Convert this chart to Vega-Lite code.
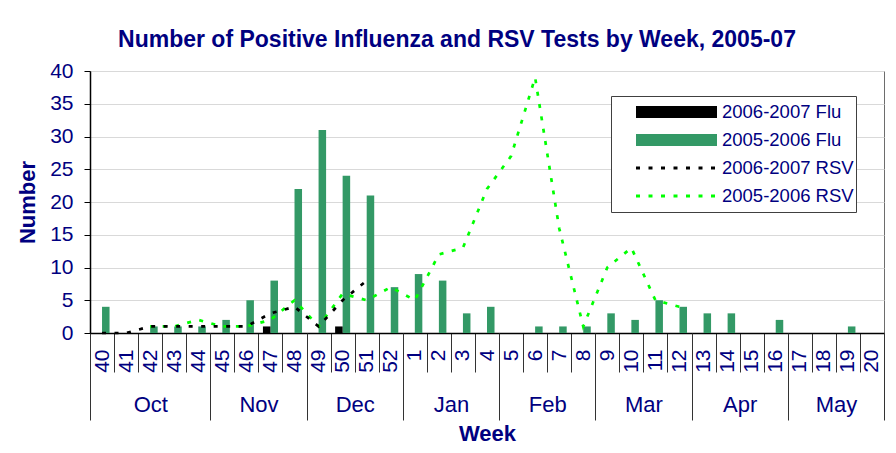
{
  "$schema": "https://vega.github.io/schema/vega-lite/v6.json",
  "width": 794,
  "height": 262,
  "autosize": {"type": "none"},
  "padding": {"left": 90, "top": 71, "right": 12, "bottom": 120},
  "background": "white",
  "title": {"text": "Number of Positive Influenza and RSV Tests by Week, 2005-07", "font": "Liberation Sans", "fontSize": 23, "fontWeight": "bold", "color": "#000080", "anchor": "middle", "frame": "group", "dx": -30, "baseline": "alphabetic", "offset": -10},
  "data": {"values": [
    {"week": "40", "series": "2005-2006 Flu", "value": 4},
    {"week": "41", "series": "2005-2006 Flu", "value": 0},
    {"week": "42", "series": "2005-2006 Flu", "value": 1},
    {"week": "43", "series": "2005-2006 Flu", "value": 1},
    {"week": "44", "series": "2005-2006 Flu", "value": 1},
    {"week": "45", "series": "2005-2006 Flu", "value": 2},
    {"week": "46", "series": "2005-2006 Flu", "value": 5},
    {"week": "47", "series": "2005-2006 Flu", "value": 8},
    {"week": "48", "series": "2005-2006 Flu", "value": 22},
    {"week": "49", "series": "2005-2006 Flu", "value": 31},
    {"week": "50", "series": "2005-2006 Flu", "value": 24},
    {"week": "51", "series": "2005-2006 Flu", "value": 21},
    {"week": "52", "series": "2005-2006 Flu", "value": 7},
    {"week": "1", "series": "2005-2006 Flu", "value": 9},
    {"week": "2", "series": "2005-2006 Flu", "value": 8},
    {"week": "3", "series": "2005-2006 Flu", "value": 3},
    {"week": "4", "series": "2005-2006 Flu", "value": 4},
    {"week": "5", "series": "2005-2006 Flu", "value": 0},
    {"week": "6", "series": "2005-2006 Flu", "value": 1},
    {"week": "7", "series": "2005-2006 Flu", "value": 1},
    {"week": "8", "series": "2005-2006 Flu", "value": 1},
    {"week": "9", "series": "2005-2006 Flu", "value": 3},
    {"week": "10", "series": "2005-2006 Flu", "value": 2},
    {"week": "11", "series": "2005-2006 Flu", "value": 5},
    {"week": "12", "series": "2005-2006 Flu", "value": 4},
    {"week": "13", "series": "2005-2006 Flu", "value": 3},
    {"week": "14", "series": "2005-2006 Flu", "value": 3},
    {"week": "15", "series": "2005-2006 Flu", "value": 0},
    {"week": "16", "series": "2005-2006 Flu", "value": 2},
    {"week": "17", "series": "2005-2006 Flu", "value": 0},
    {"week": "18", "series": "2005-2006 Flu", "value": 0},
    {"week": "19", "series": "2005-2006 Flu", "value": 1},
    {"week": "20", "series": "2005-2006 Flu", "value": 0},
    {"week": "40", "series": "2006-2007 Flu", "value": 0},
    {"week": "41", "series": "2006-2007 Flu", "value": 0},
    {"week": "42", "series": "2006-2007 Flu", "value": 0},
    {"week": "43", "series": "2006-2007 Flu", "value": 0},
    {"week": "44", "series": "2006-2007 Flu", "value": 0},
    {"week": "45", "series": "2006-2007 Flu", "value": 0},
    {"week": "46", "series": "2006-2007 Flu", "value": 0},
    {"week": "47", "series": "2006-2007 Flu", "value": 1},
    {"week": "48", "series": "2006-2007 Flu", "value": 0},
    {"week": "49", "series": "2006-2007 Flu", "value": 0},
    {"week": "50", "series": "2006-2007 Flu", "value": 1},
    {"week": "51", "series": "2006-2007 Flu", "value": 0},
    {"week": "42", "series": "2005-2006 RSV", "value": 1},
    {"week": "43", "series": "2005-2006 RSV", "value": 1},
    {"week": "44", "series": "2005-2006 RSV", "value": 2},
    {"week": "45", "series": "2005-2006 RSV", "value": 1},
    {"week": "46", "series": "2005-2006 RSV", "value": 1},
    {"week": "47", "series": "2005-2006 RSV", "value": 2},
    {"week": "48", "series": "2005-2006 RSV", "value": 5},
    {"week": "49", "series": "2005-2006 RSV", "value": 1},
    {"week": "50", "series": "2005-2006 RSV", "value": 6},
    {"week": "51", "series": "2005-2006 RSV", "value": 5},
    {"week": "52", "series": "2005-2006 RSV", "value": 7},
    {"week": "1", "series": "2005-2006 RSV", "value": 5},
    {"week": "2", "series": "2005-2006 RSV", "value": 12},
    {"week": "3", "series": "2005-2006 RSV", "value": 13},
    {"week": "4", "series": "2005-2006 RSV", "value": 22},
    {"week": "5", "series": "2005-2006 RSV", "value": 27},
    {"week": "6", "series": "2005-2006 RSV", "value": 39},
    {"week": "7", "series": "2005-2006 RSV", "value": 16},
    {"week": "8", "series": "2005-2006 RSV", "value": 1},
    {"week": "9", "series": "2005-2006 RSV", "value": 10},
    {"week": "10", "series": "2005-2006 RSV", "value": 13},
    {"week": "11", "series": "2005-2006 RSV", "value": 5},
    {"week": "12", "series": "2005-2006 RSV", "value": 4},
    {"week": "40", "series": "2006-2007 RSV", "value": 0},
    {"week": "41", "series": "2006-2007 RSV", "value": 0},
    {"week": "42", "series": "2006-2007 RSV", "value": 1},
    {"week": "43", "series": "2006-2007 RSV", "value": 1},
    {"week": "44", "series": "2006-2007 RSV", "value": 1},
    {"week": "45", "series": "2006-2007 RSV", "value": 1},
    {"week": "46", "series": "2006-2007 RSV", "value": 1},
    {"week": "47", "series": "2006-2007 RSV", "value": 3},
    {"week": "48", "series": "2006-2007 RSV", "value": 4},
    {"week": "49", "series": "2006-2007 RSV", "value": 1},
    {"week": "50", "series": "2006-2007 RSV", "value": 5},
    {"week": "51", "series": "2006-2007 RSV", "value": 8}
  ]},
  "layer": [
    {
      "transform": [{"filter": "indexof(datum.series, 'Flu') >= 0"}],
      "mark": {"type": "bar"},
      "encoding": {
        "x": {
          "field": "week", "type": "ordinal",
          "scale": {"domain": ["40","41","42","43","44","45","46","47","48","49","50","51","52","1","2","3","4","5","6","7","8","9","10","11","12","13","14","15","16","17","18","19","20"], "paddingInner": 0, "paddingOuter": 0},
          "axis": {"orient": "bottom", "title": "Week", "titleFontSize": 22, "titleFontWeight": "bold", "titleColor": "#000080", "titleBaseline": "alphabetic", "titleY": 107, "labelAngle": 270, "labelFontSize": 21, "labelColor": "#000080", "labelPadding": -23, "tickSize": 39, "tickBand": "extent", "tickColor": "#333333", "domainColor": "#000000", "domainWidth": 1.5, "grid": false, "labelOverlap": false}
        },
        "xOffset": {"field": "series", "type": "nominal", "scale": {"domain": ["2006-2007 Flu", "2005-2006 Flu"], "paddingInner": 0, "paddingOuter": 0.6}},
        "y": {
          "field": "value", "type": "quantitative",
          "scale": {"domain": [0, 40], "nice": false},
          "axis": {"title": "Number", "titleFontSize": 22, "titleFontWeight": "bold", "titleColor": "#000080", "titlePadding": 10, "tickCount": 8, "grid": true, "gridColor": "#d9d9d9", "gridWidth": 1.2, "labelFontSize": 21, "labelColor": "#000080", "labelPadding": 11, "tickSize": 6, "tickColor": "#000000", "domainColor": "#000000", "domainWidth": 1.5}
        },
        "color": {
          "field": "series", "type": "nominal",
          "scale": {"domain": ["2006-2007 Flu", "2005-2006 Flu", "2006-2007 RSV", "2005-2006 RSV"], "range": ["#000000", "#339966", "#000000", "#00ff00"]},
          "legend": {
            "title": null, "orient": "none", "legendX": 521, "legendY": 25,
            "padding": 2, "fillColor": "#ffffff", "strokeColor": "#404040",
            "clipHeight": 28, "rowPadding": 0,
            "symbolSize": 10000, "symbolStrokeWidth": 3,
            "labelOffset": 6, "labelFontSize": 18.5, "labelColor": "#000080", "labelFont": "Liberation Sans", "labelLimit": 400,
            "encode": {"symbols": {"update": {
              "shape": {"signal": "indexof(datum.value, 'RSV') >= 0 ? 'M-0.57,0L1.05,0' : 'M-0.57,-0.12L1.05,-0.12L1.05,0.12L-0.57,0.12Z'"},
              "fill": {"signal": "indexof(datum.value, 'RSV') >= 0 ? 'transparent' : scale('color', datum.value)"},
              "stroke": {"signal": "scale('color', datum.value)"},
              "strokeOpacity": {"signal": "indexof(datum.value, 'RSV') >= 0 ? 1 : 0"},
              "strokeDash": {"signal": "indexof(datum.value, 'RSV') >= 0 ? [4, 8.5] : [1, 0]"},
              "strokeCap": {"value": "butt"},
              "opacity": {"value": 1}
            }}}
          }
        }
      }
    },
    {
      "transform": [{"filter": "indexof(datum.series, 'RSV') >= 0"}],
      "mark": {"type": "line", "strokeWidth": 2.7, "strokeDash": [4, 8.5]},
      "encoding": {
        "x": {
          "field": "week", "type": "ordinal",
          "axis": {"orient": "bottom", "title": null, "values": ["40","44","48","52","4","8","12","16","20"], "tickBand": "extent", "tickSize": 87, "tickColor": "#333333", "tickOpacity": {"condition": {"test": "datum.value === '40'", "value": 0}, "value": 1}, "domain": false, "grid": false, "labelAngle": 0, "labelFontSize": 22, "labelColor": "#000080", "labelBaseline": "middle", "labelAlign": "center", "labelPadding": -16, "labelOffset": {"condition": {"test": "datum.value === '44'", "value": -48}, "value": -36}, "labelOverlap": false, "labelExpr": "datum.value === '44' ? 'Oct' : datum.value === '48' ? 'Nov' : datum.value === '52' ? 'Dec' : datum.value === '4' ? 'Jan' : datum.value === '8' ? 'Feb' : datum.value === '12' ? 'Mar' : datum.value === '16' ? 'Apr' : datum.value === '20' ? 'May' : ''"}
        },
        "y": {"field": "value", "type": "quantitative"},
        "color": {"field": "series", "type": "nominal"},
        "order": {"value": null}
      }
    }
  ],
  "resolve": {"axis": {"x": "independent"}},
  "config": {
    "font": "Liberation Sans",
    "view": {"stroke": "#6d6d6d", "strokeWidth": 1},
    "axis": {"labelFont": "Liberation Sans", "titleFont": "Liberation Sans"}
  }
}
